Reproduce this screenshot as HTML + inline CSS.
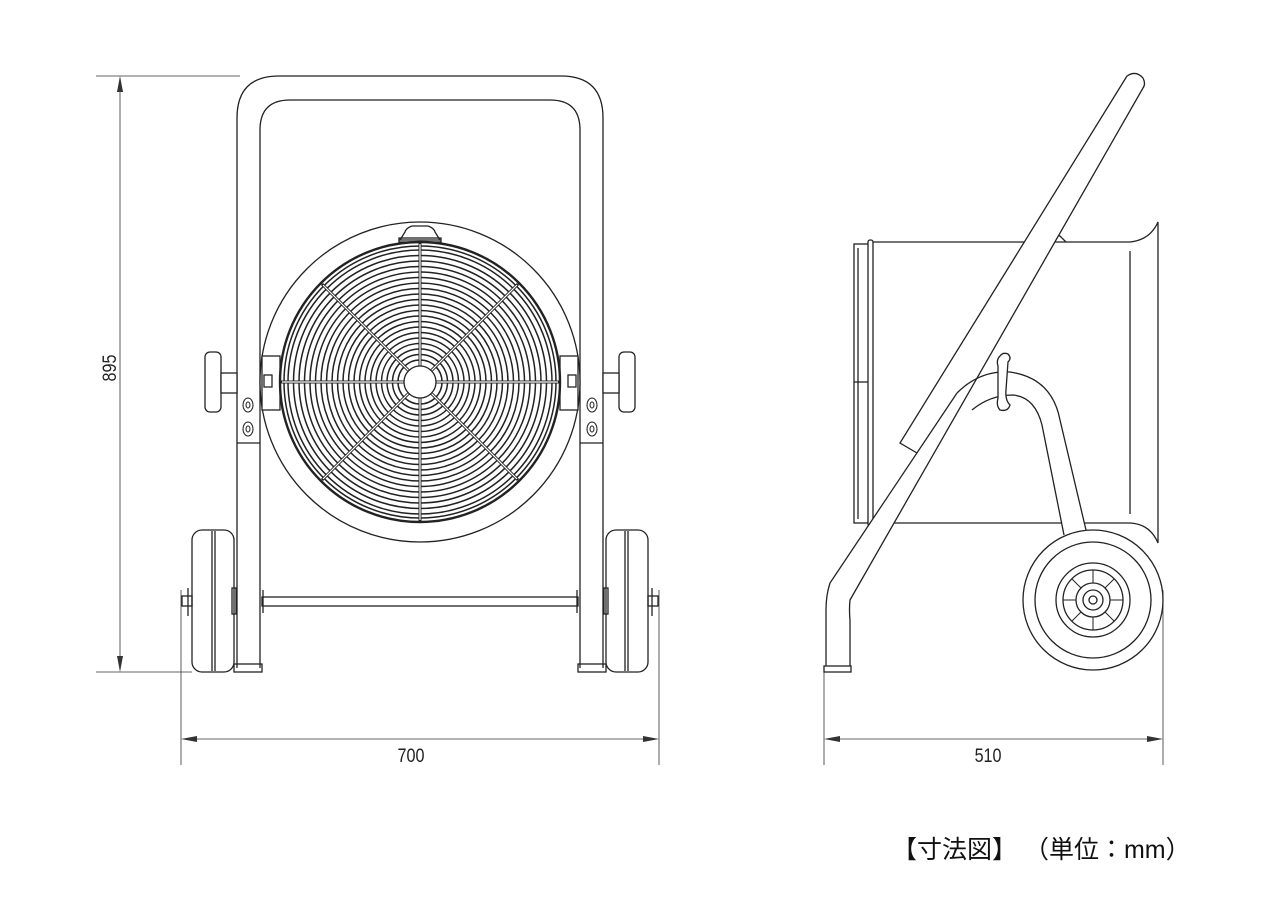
<!DOCTYPE html>
<html><head><meta charset="utf-8"><style>
html,body{margin:0;padding:0;background:#fff;}
svg{display:block}
</style></head><body>
<svg width="1280" height="906" viewBox="0 0 1280 906" xmlns="http://www.w3.org/2000/svg">
<g fill="none" stroke="#222" stroke-width="1.3">
<!-- dimension lines -->
<g stroke-width="0.8" stroke="#333">
<line x1="96" y1="76" x2="240" y2="76"/>
<line x1="96" y1="672" x2="192" y2="672"/>
<line x1="120" y1="78" x2="120" y2="670"/>
<line x1="181" y1="590" x2="181" y2="765"/>
<line x1="659" y1="590" x2="659" y2="765"/>
<line x1="183" y1="739" x2="657" y2="739"/>
<line x1="824" y1="672" x2="824" y2="765"/>
<line x1="1163" y1="590" x2="1163" y2="765"/>
<line x1="826" y1="739" x2="1161" y2="739"/>
</g>
<g fill="#333" stroke="none">
<polygon points="120,76 117,92 123,92"/>
<polygon points="120,672 117,656 123,656"/>
<polygon points="181,739 197,736 197,742"/>
<polygon points="659,739 643,736 643,742"/>
<polygon points="824,739 840,736 840,742"/>
<polygon points="1163,739 1147,736 1147,742"/>
</g>

<!-- FRONT VIEW frame -->
<path d="M237,668 V118 Q237,76 279,76 H561 Q603,76 603,118 V668"/>
<path d="M260,668 V130 Q260,100 290,100 H550 Q580,100 580,130 V668"/>
<line x1="237" y1="443" x2="260" y2="443"/>
<line x1="580" y1="443" x2="603" y2="443"/>
<rect x="234" y="664" width="28" height="8"/>
<rect x="578" y="664" width="28" height="8"/>
<!-- housing -->
<circle cx="420" cy="382" r="160" fill="#fff"/>
<path d="M400,240 L405,232 Q406,228 412,226 L428,226 Q434,228 435,232 L440,240 Z" fill="#fff"/>
<rect x="399" y="238" width="42" height="4"/>
<!-- brackets -->
<rect x="262" y="356" width="18" height="54" fill="#fff"/>
<rect x="560" y="356" width="18" height="54" fill="#fff"/>
<rect x="264" y="375" width="8" height="12"/>
<rect x="568" y="375" width="8" height="12"/>
<!-- grille -->
<circle cx="420" cy="382" r="140" stroke-width="2.4"/>
<g stroke-width="1.5">
<circle cx="420" cy="382" r="22"/><circle cx="420" cy="382" r="27.5"/><circle cx="420" cy="382" r="33"/><circle cx="420" cy="382" r="38.5"/><circle cx="420" cy="382" r="44"/><circle cx="420" cy="382" r="49.5"/><circle cx="420" cy="382" r="55"/><circle cx="420" cy="382" r="60.5"/><circle cx="420" cy="382" r="66"/><circle cx="420" cy="382" r="71.5"/><circle cx="420" cy="382" r="77"/><circle cx="420" cy="382" r="82.5"/><circle cx="420" cy="382" r="88"/><circle cx="420" cy="382" r="93.5"/><circle cx="420" cy="382" r="99"/><circle cx="420" cy="382" r="104.5"/><circle cx="420" cy="382" r="110"/><circle cx="420" cy="382" r="115.5"/><circle cx="420" cy="382" r="121"/><circle cx="420" cy="382" r="126.5"/><circle cx="420" cy="382" r="132"/><circle cx="420" cy="382" r="136"/>
</g>
<g stroke-width="3">
<line x1="420" y1="242" x2="420" y2="522"/>
<line x1="280" y1="382" x2="560" y2="382"/>
<line x1="322" y1="284" x2="518" y2="480"/>
<line x1="518" y1="284" x2="322" y2="480"/>
</g>
<g stroke="#fff" stroke-width="1.2">
<line x1="420" y1="244" x2="420" y2="520"/>
<line x1="282" y1="382" x2="558" y2="382"/>
<line x1="323" y1="285" x2="517" y2="479"/>
<line x1="517" y1="285" x2="323" y2="479"/>
</g>
<circle cx="420" cy="382" r="16" fill="#fff"/>
<!-- knobs -->
<rect x="205" y="352" width="16" height="60" rx="5" fill="#fff"/>
<rect x="221" y="373" width="16" height="20" fill="#fff"/>
<rect x="619" y="352" width="16" height="60" rx="5" fill="#fff"/>
<rect x="603" y="373" width="16" height="20" fill="#fff"/>
<g stroke-width="1">
<ellipse cx="248" cy="405" rx="5" ry="7"/><ellipse cx="248" cy="405" rx="2" ry="3"/>
<ellipse cx="248" cy="429" rx="5" ry="7"/><ellipse cx="248" cy="429" rx="2" ry="3"/>
<ellipse cx="592" cy="405" rx="5" ry="7"/><ellipse cx="592" cy="405" rx="2" ry="3"/>
<ellipse cx="592" cy="429" rx="5" ry="7"/><ellipse cx="592" cy="429" rx="2" ry="3"/>
</g>
<!-- wheels -->
<rect x="192" y="530" width="42" height="142" rx="10" fill="#fff"/>
<line x1="212" y1="531" x2="212" y2="671"/><line x1="215" y1="531" x2="215" y2="671"/>
<rect x="606" y="530" width="42" height="142" rx="10" fill="#fff"/>
<line x1="625" y1="531" x2="625" y2="671"/><line x1="628" y1="531" x2="628" y2="671"/>
<rect x="182" y="596" width="10" height="10"/><rect x="648" y="596" width="10" height="10"/>
<line x1="188" y1="588" x2="188" y2="616"/><line x1="652" y1="588" x2="652" y2="616"/>
<rect x="232" y="588" width="4" height="26"/><rect x="604" y="588" width="4" height="26"/>
<!-- axle -->
<rect x="262" y="597" width="316" height="9" fill="#fff"/>
<line x1="263" y1="590" x2="263" y2="613"/><line x1="577" y1="590" x2="577" y2="613"/>

<!-- SIDE VIEW -->
<path d="M870,242 H1130 Q1150,240 1158,222 V543 Q1150,524 1130,523 H870 Z" fill="#fff"/>
<line x1="1130" y1="251" x2="1130" y2="514"/>
<rect x="854" y="244" width="16" height="279" fill="#fff"/>
<line x1="858" y1="248" x2="858" y2="519"/>
<rect x="868" y="240" width="5" height="286" rx="2" fill="#fff"/>
<line x1="854" y1="382" x2="868" y2="382"/>
<path d="M1052,242 L1055,234 L1060,236 L1066,242"/>
<!-- arch fill -->
<path d="M957,393 Q980,370 1010,372 Q1052,378 1060,420 L1086,530 L1064,535 L1042,425 Q1035,397 1013,395 Q990,395 972,410 Z" fill="#fff" stroke="none"/>
<!-- handle fill -->
<path d="M1127,76 Q1136,70 1143,78 Q1146,84 1143,88 L850,600 V668 H826 V610 Q826,595 830,583 L957,393 L935,425 L917,453 L900,443 Z" fill="#fff" stroke="none"/>
<!-- handle -->
<path d="M1127,76 L900,443 L917,453"/>
<path d="M1127,76 Q1136,70 1143,78 Q1146,84 1143,88 L850,600 Q849,610 850,620 V668"/>
<path d="M957,393 L830,583 Q826,595 826,610 V668"/>
<rect x="824" y="666" width="27" height="6" fill="#fff"/>
<!-- arch -->
<path d="M957,393 Q980,370 1010,372 Q1052,378 1060,420 L1086,530"/>
<path d="M972,410 Q990,395 1013,395 Q1035,397 1042,425 L1064,535"/>
<path d="M1000,356 Q1003,352 1008,354 Q1012,358 1008,362 L1006,390 Q1005,400 1010,405 Q1008,412 1000,410 Q996,406 998,398 L998,366 Q996,360 1000,356 Z" fill="#fff"/>
<!-- side wheel -->
<circle cx="1093" cy="600" r="70" fill="#fff"/>
<circle cx="1093" cy="600" r="58"/>
<circle cx="1093" cy="600" r="37"/>
<circle cx="1093" cy="600" r="30"/>
<circle cx="1093" cy="600" r="17"/>
<circle cx="1093" cy="600" r="10"/>
<circle cx="1093" cy="600" r="4"/>
<g stroke-width="1">
<line x1="1110" y1="600" x2="1123" y2="600"/><line x1="1076" y1="600" x2="1063" y2="600"/>
<line x1="1093" y1="583" x2="1093" y2="570"/><line x1="1093" y1="617" x2="1093" y2="630"/>
<line x1="1105" y1="588" x2="1114" y2="579"/><line x1="1081" y1="612" x2="1072" y2="621"/>
<line x1="1105" y1="612" x2="1114" y2="621"/><line x1="1081" y1="588" x2="1072" y2="579"/>
</g>
</g>
<g font-family="'Liberation Sans', sans-serif" font-size="19" fill="#222">
<text x="411" y="762" text-anchor="middle" transform="scale(0.85,1) translate(72.5,0)">700</text>
<text x="988" y="762" text-anchor="middle" transform="scale(0.85,1) translate(174.4,0)">510</text>
<text transform="translate(116,368) rotate(-90) scale(0.85,1)" text-anchor="middle">895</text>
</g>
<text x="892" y="858" font-family="'Liberation Sans','Noto Sans CJK JP',sans-serif" font-size="25" fill="#111">【寸法図】 （単位：mm）</text>
</svg>
</body></html>
